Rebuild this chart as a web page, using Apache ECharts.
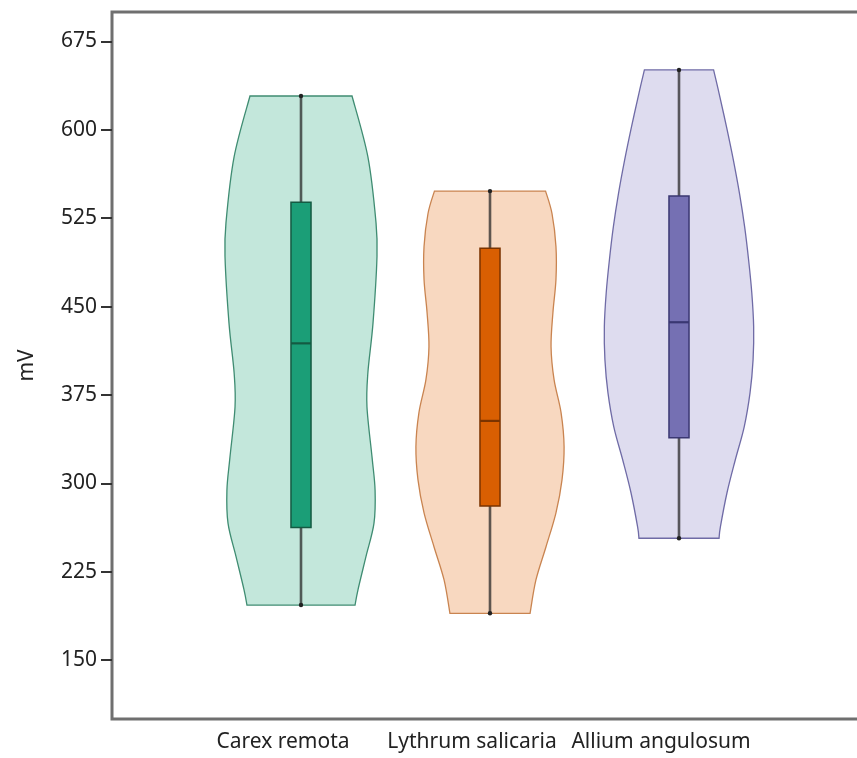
<!DOCTYPE html>
<html><head><meta charset="utf-8">
<script src="https://cdn.jsdelivr.net/npm/echarts@6/dist/echarts.min.js"></script>
<style>html,body{margin:0;padding:0;background:#fff}#c{width:857px;height:758px}</style>
</head><body><div id="c"></div><script>
const categories = ['Carex remota', 'Lythrum salicaria', 'Allium angulosum'];
const yTicks = [150, 225, 300, 375, 450, 525, 600, 675];

// violin outlines: values (top to bottom) and half-width density (in category units)
const carexValues = [628.7, 577, 521, 492, 436, 394, 365, 322, 294, 266, 238, 210, 196.7];
const carexWidths = [0.270, 0.354, 0.397, 0.402, 0.381, 0.354, 0.349, 0.376, 0.392, 0.386, 0.344, 0.302, 0.286];
const lythrumValues = [548, 529, 501, 473, 445, 416, 388, 360, 331, 303, 275, 246, 218, 189.7];
const lythrumWidths = [0.294, 0.328, 0.349, 0.349, 0.333, 0.323, 0.339, 0.376, 0.392, 0.381, 0.349, 0.296, 0.243, 0.212];
const alliumValues = [650.8, 631, 602, 574, 546, 518, 490, 462, 433, 405, 377, 348, 320, 292, 263, 253.4];
const alliumWidths = [0.183, 0.212, 0.252, 0.288, 0.320, 0.347, 0.368, 0.385, 0.395, 0.392, 0.376, 0.345, 0.298, 0.254, 0.219, 0.212];

// box statistics
const minValues = [196.7, 189.7, 253.4];
const q1Values = [262.6, 280.8, 338.7];
const medianValues = [418.8, 353.0, 436.7];
const q3Values = [538.5, 499.5, 543.9];
const maxValues = [628.7, 548.0, 650.8];

const violinValues = [carexValues, lythrumValues, alliumValues];
const violinWidths = [carexWidths, lythrumWidths, alliumWidths];

const violinFill = ['#c3e7db', '#f8d8c0', '#dedcef'];
const violinStroke = ['#3f8c72', '#c98450', '#6f6ba6'];
const boxFill = ['#1b9e77', '#d95f02', '#7570b3'];
const boxStroke = ['#145a42', '#7a3300', '#3a3772'];
const FONT = 'Noto Sans';

function smoothPath(pts) {
  let d = '';
  for (let i = 0; i < pts.length - 1; i++) {
    const p0 = pts[Math.max(i - 1, 0)], p1 = pts[i], p2 = pts[i + 1], p3 = pts[Math.min(i + 2, pts.length - 1)];
    const c1 = [p1[0] + (p2[0] - p0[0]) / 6, p1[1] + (p2[1] - p0[1]) / 6];
    const c2 = [p2[0] - (p3[0] - p1[0]) / 6, p2[1] - (p3[1] - p1[1]) / 6];
    d += ' C' + c1[0] + ',' + c1[1] + ' ' + c2[0] + ',' + c2[1] + ' ' + p2[0] + ',' + p2[1];
  }
  return d;
}

function renderItem(params, api) {
  const i = api.value(0);
  const vals = violinValues[i], ws = violinWidths[i];
  const cx = api.coord([i, 0])[0];
  const left = vals.map((v, k) => [api.coord([i - ws[k], v])[0], api.coord([i, v])[1]]);
  const right = vals.map((v, k) => [api.coord([i + ws[k], v])[0], api.coord([i, v])[1]]).reverse();
  let d = 'M' + left[0][0] + ',' + left[0][1] + smoothPath(left);
  d += ' L' + right[0][0] + ',' + right[0][1] + smoothPath(right) + ' Z';
  const bw = 0.053;
  const xl = api.coord([i - bw, 0])[0], xr = api.coord([i + bw, 0])[0];
  const yq3 = api.coord([i, q3Values[i]])[1], yq1 = api.coord([i, q1Values[i]])[1];
  const ymed = api.coord([i, medianValues[i]])[1];
  const ymax = api.coord([i, maxValues[i]])[1], ymin = api.coord([i, minValues[i]])[1];
  return {
    type: 'group',
    children: [
      { type: 'path', shape: { pathData: d }, style: { fill: violinFill[i], stroke: violinStroke[i], lineWidth: 1.3 } },
      { type: 'line', shape: { x1: cx, y1: ymax, x2: cx, y2: ymin }, style: { stroke: 'rgba(35,35,35,0.72)', lineWidth: 2.6 } },
      { type: 'circle', shape: { cx: cx, cy: ymax, r: 2.2 }, style: { fill: '#222' } },
      { type: 'circle', shape: { cx: cx, cy: ymin, r: 2.2 }, style: { fill: '#222' } },
      { type: 'rect', shape: { x: xl, y: yq3, width: xr - xl, height: yq1 - yq3 }, style: { fill: boxFill[i], stroke: boxStroke[i], lineWidth: 1.5 } },
      { type: 'line', shape: { x1: xl, y1: ymed, x2: xr, y2: ymed }, style: { stroke: boxStroke[i], lineWidth: 2.2 } }
    ]
  };
}

const chart = echarts.init(document.getElementById('c'), null, { renderer: 'canvas' });
chart.setOption({
  animation: false,
  backgroundColor: '#ffffff',
  grid: {
    left: 112, top: 12, right: -11, bottom: 39,
    show: true, borderColor: '#6f6f6f', borderWidth: 3, backgroundColor: 'transparent',
    containLabel: false, outerBoundsMode: 'none'
  },
  xAxis: {
    type: 'value', min: -1, max: 3,
    axisLine: { show: false, onZero: false }, axisTick: { show: false }, splitLine: { show: false },
    axisLabel: {
      customValues: [0, 1, 2],
      formatter: v => categories[Math.round(v)] || '',
      fontFamily: FONT, fontSize: 21, color: '#222', margin: 13,
      padding: [0, 36, 0, 0]
    }
  },
  yAxis: {
    type: 'value', min: 100, max: 700,
    name: 'mV', nameLocation: 'middle', nameGap: 74,
    nameTextStyle: { fontFamily: FONT, fontSize: 21, color: '#222' },
    axisLine: { show: false, onZero: false },
    splitLine: { show: false },
    axisTick: { show: true, customValues: yTicks, length: 11, lineStyle: { color: '#333', width: 2 } },
    axisLabel: { customValues: yTicks, fontFamily: FONT, fontSize: 21, color: '#222', margin: 15 }
  },
  series: [{
    type: 'custom',
    renderItem: renderItem,
    encode: { x: 0, y: [1, 2] },
    data: categories.map((c, i) => [i, minValues[i], maxValues[i]]),
    clip: false
  }]
});
</script></body></html>
